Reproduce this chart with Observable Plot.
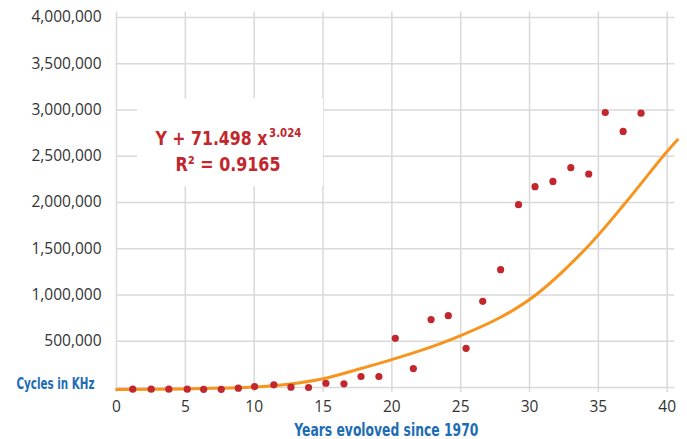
<!DOCTYPE html>
<html>
<head>
<meta charset="utf-8">
<script src="https://cdn.jsdelivr.net/npm/d3@7"></script>
<script src="https://cdn.jsdelivr.net/npm/@observablehq/plot@0.6"></script>
<style>
  html, body { margin: 0; padding: 0; background: #fff; }
  #chart { width: 687px; height: 439px; }
</style>
</head>
<body>
<div id="chart"></div>
<script>
// Observed points (years since 1970, cycles in KHz)
const years = [1.18, 2.52, 3.8, 5.14, 6.33, 7.61, 8.85, 10.03, 11.43, 12.67, 13.95, 15.21, 16.52, 17.76, 19.06, 20.25, 21.56, 22.85, 24.1, 25.39, 26.6, 27.9, 29.2, 30.4, 31.7, 33.0, 34.3, 35.5, 36.8, 38.1];
const cycles = [-18000, -18000, -18000, -18000, -20000, -20000, -7000, 10000, 29000, 3000, 0, 46000, 40000, 119000, 119000, 532000, 205000, 734000, 776000, 424000, 932000, 1274000, 1976000, 2171000, 2228000, 2376000, 2308000, 2973000, 2768000, 2966000];

// Trend curve
const fitX = [0, 5, 10, 12.5, 15, 17.5, 20, 22.5, 25, 27.9, 30.45, 34.08, 36.99, 39.7, 40.75];
const fitY = [-22000, -15000, 5000, 35000, 94000, 195000, 302000, 420000, 561000, 759000, 1000000, 1500000, 2000000, 2500000, 2678000];

// Ticks
const xTicks = [0, 5, 10, 15, 20, 25, 30, 35, 40];
const yTicks = [0, 500000, 1000000, 1500000, 2000000, 2500000, 3000000, 3500000, 4000000];
const yTickLabels = yTicks.filter(d => d > 0);

// Annotation text
const fitLabel = "Y + 71.498 x";
const fitExponent = "3.024";
const r2Label = "R\u00B2 = 0.9165";

const points = years.map((x, i) => ({x, y: cycles[i]}));
const fit = fitX.map((x, i) => ({x, y: fitY[i]}));

const red = "#c1272d";
const orange = "#f7941e";
const blue = "#1d6db4";
const grid = "#d9d9d9";
const tickFont = "'Open Sans', 'Noto Sans', sans-serif";
const condFont = "'Liberation Sans Narrow', 'DejaVu Sans Condensed', 'Roboto', sans-serif";

const chart = Plot.plot({
  width: 687,
  height: 439,
  marginLeft: 116,
  marginRight: 20.3,
  marginTop: 17,
  marginBottom: 52,
  x: {domain: [0, 40], axis: null},
  y: {domain: [0, 4000000], axis: null},
  style: {background: "#fff", overflow: "visible"},
  marks: [
    Plot.ruleY(yTicks, {x1: 0, x2: 40.55, stroke: grid, strokeWidth: 1.5}),
    Plot.ruleX(xTicks, {y1: -54000, y2: 4060000, stroke: grid, strokeWidth: 1.5}),
    Plot.rect([{x1: 1.53, x2: 15.04, y1: 2170000, y2: 3120000}], {x1: "x1", x2: "x2", y1: "y1", y2: "y2", fill: "#fff"}),
    Plot.line(fit, {x: "x", y: "y", stroke: orange, strokeWidth: 3, curve: "catmull-rom"}),
    Plot.dot(points, {x: "x", y: "y", r: 3.6, fill: red, stroke: "none"}),
    Plot.text(yTickLabels, {x: 0, y: d => d, text: d => d3.format(",")(d), textAnchor: "end", dx: -15, fontSize: 15.5, fontFamily: tickFont, fill: "#333"}),
    Plot.text(xTicks, {x: d => d, y: 0, text: d => String(d), dy: 20, fontSize: 15.5, fontFamily: tickFont, fill: "#333"}),
    Plot.text(["Cycles in KHz"], {x: 0, y: 0, text: d => d, textAnchor: "end", dx: -22, dy: -4, fontSize: 16, fontWeight: "bold", fontFamily: condFont, fill: blue}),
    Plot.text(["Years evoloved since 1970"], {x: 19.6, y: 0, text: d => d, dy: 43, fontSize: 17, fontWeight: "bold", fontFamily: condFont, fill: blue}),
    Plot.text([fitLabel], {x: 2.83, y: 2624000, text: d => d, textAnchor: "start", lineAnchor: "bottom", fontSize: 20, fontWeight: "bold", fontFamily: condFont, fill: red}),
    Plot.text([r2Label], {x: 8.1, y: 2343000, text: d => d, lineAnchor: "bottom", fontSize: 20, fontWeight: "bold", fontFamily: condFont, fill: red})
  ]
});

document.getElementById("chart").appendChild(chart);

// Fit condensed labels to the widths seen in the reference; add exponent as superscript
const widths = {
  "Cycles in KHz": 78,
  "Years evoloved since 1970": 184,
  "R\u00B2 = 0.9165": 105
};
chart.querySelectorAll("text").forEach(t => {
  const content = t.textContent;
  if (content === fitLabel) {
    const sup = document.createElementNS("http://www.w3.org/2000/svg", "tspan");
    sup.setAttribute("font-size", "13");
    sup.setAttribute("dy", "-8");
    sup.setAttribute("dx", "2");
    sup.textContent = fitExponent;
    t.appendChild(sup);
    t.setAttribute("textLength", 146);
    t.setAttribute("lengthAdjust", "spacingAndGlyphs");
  } else if (widths[content]) {
    t.setAttribute("textLength", widths[content]);
    t.setAttribute("lengthAdjust", "spacingAndGlyphs");
  }
});
</script>
</body>
</html>
